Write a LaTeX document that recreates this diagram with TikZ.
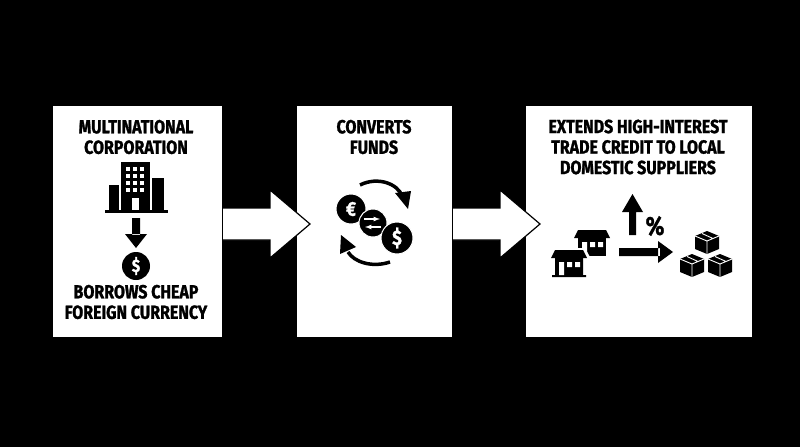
\documentclass[tikz,border=0pt]{standalone}
\usepackage{fontspec}
\setmainfont{Fira Sans}[FakeStretch=0.84,BoldFeatures={FakeBold=1.3}]
\begin{document}
\begin{tikzpicture}[x=1pt,y=-1pt,
  box/.style={fill=white,draw=black,line width=1pt},
  ttl/.style={font=\bfseries\fontsize{19}{20.5}\selectfont,align=center,inner sep=0},
  blk/.style={fill=black,draw=none},
  cur/.style={line width=3.5pt,draw=black}]
\fill[black] (0,0) rectangle (800,447);
\useasboundingbox (0,0) rectangle (800,447);
\node[box,minimum width=170,minimum height=232,anchor=north west] (b1) at (52,105) {};
\node[box,minimum width=156,minimum height=232,anchor=north west] (b2) at (296,105) {};
\node[box,minimum width=227,minimum height=232,anchor=north west] (b3) at (525,105) {};
% block arrows
\draw[fill=white,draw=black,line width=1.2pt] (b1.east|-0,208) -- (270,208) -- (270,190) -- (310,224) -- (270,258) -- (270,240) -- (b1.east|-0,240);
\draw[fill=white,draw=black,line width=1.2pt] (b2.east|-0,208) -- (500,208) -- (500,190) -- (540,224) -- (500,258) -- (500,240) -- (b2.east|-0,240);
\fill[white] (b1.east|-0,209.5) rectangle (250,238.5);
\fill[white] (b2.east|-0,209.5) rectangle (480,238.5);
% titles
\node[ttl] (t1) at (136,137) {MULTINATIONAL\\CORPORATION};
\node[ttl] (t1b) at (136,302) {BORROWS CHEAP\\FOREIGN CURRENCY};
\node[ttl] (t2) at (374,137) {CONVERTS\\FUNDS};
\node[ttl] (t3) at (638,147) {EXTENDS HIGH-INTEREST\\TRADE CREDIT TO LOCAL\\DOMESTIC SUPPLIERS};
% building
\fill[black] (105,210) rectangle (168,213);
\fill[black] (109,185) rectangle (119,210);
\fill[black] (152,178) rectangle (164,210);
\fill[black] (121,162) rectangle (150,210);
\foreach \i in {0,1,2}\foreach \j in {0,1,2,3}
  \fill[white] (126+\i*7,167+\j*7) rectangle (130+\i*7,171+\j*7);
\fill[white] (132,198) rectangle (139,210);
% down arrow
\fill[black] (132,218) rectangle (140,235) (125,234) -- (147,234) -- (136,248) -- cycle;
\node[circle,fill=black,minimum size=28,inner sep=0,text=white,font=\bfseries\fontsize{18}{18}\selectfont] (c1) at (136,266) {\$};
% coins
\node[circle,fill=black,draw=white,line width=1pt,minimum size=30,inner sep=0,text=white,font=\bfseries\fontsize{20}{20}\selectfont] (eu) at (351,209) {€};
\node[circle,fill=black,draw=white,line width=1pt,minimum size=28,inner sep=0] (mid) at (373,223) {};
\node[circle,fill=black,draw=white,line width=1pt,minimum size=32,inner sep=0,text=white,font=\bfseries\fontsize{21}{21}\selectfont] (do) at (397,238) {\$};
\draw[white,line width=1.2pt,-latex] (364,219) -- (380,219);
\draw[white,line width=1.2pt,-latex] (381,227) -- (365,227);
\draw[cur] (360,185) .. controls (378,176) and (398,184) .. (402,196);
\fill[black] (395,193) -- (411,191) -- (408,209) -- cycle;
\draw[cur] (390,262) .. controls (372,268) and (354,262) .. (348,252);
\fill[black] (340,254) -- (341,235) -- (356,247) -- cycle;
% houses
\begin{scope}[shift={(592,242)}]
\fill[black] (-18,-4) -- (-14,-12) -- (14,-12) -- (18,-4) -- cycle;
\fill[black] (-14,-4) rectangle (14,14);
\fill[white] (-10,0) rectangle (-5,14) (-2,0) rectangle (3,5) (6,0) rectangle (11,5);
\end{scope}
\begin{scope}[shift={(569,262)}]
\fill[white] (-20,-5) -- (-16,-14) -- (16,-14) -- (21,-5) -- (18,16) -- (-20,16) -- cycle;
\fill[black] (-18,-4) -- (-14,-12) -- (14,-12) -- (18,-4) -- cycle;
\fill[black] (-14,-4) rectangle (14,13) (-17,13) rectangle (17,15);
\fill[white] (-10,0) rectangle (-5,13) (-2,0) rectangle (3,5) (6,0) rectangle (11,5);
\end{scope}
% arrows
\fill[black] (619,248) rectangle (660,256) (658,241) -- (673,252) -- (658,263) -- cycle;
\fill[black] (629,212) rectangle (636,235) (622,212) -- (632.5,194) -- (643,212) -- cycle;
\node[font=\bfseries\fontsize{26}{26}\selectfont,inner sep=0] (pc) at (655,226) {\%};
% cubes
\foreach \cx/\cy in {707/240, 692/263, 720/263}{
 \begin{scope}[shift={(\cx,\cy)}]
 \fill[black] (-12,-4) -- (0,-9) -- (12,-4) -- (12,9) -- (0,14) -- (-12,9) -- cycle;
 \draw[white,line width=0.9pt] (-12,-4) -- (0,1) -- (12,-4) (0,1) -- (0,14) (-5,-6.5) -- (6,-1.5);
 \end{scope}}
\end{tikzpicture}
\end{document}
